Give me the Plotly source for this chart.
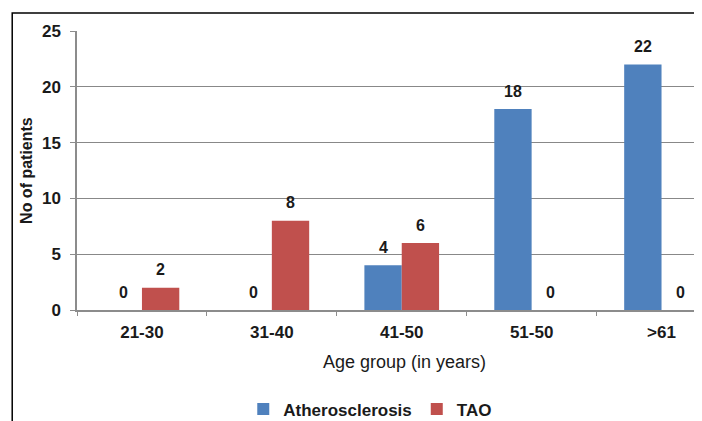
import plotly.graph_objects as go

categories = ["21-30", "31-40", "41-50", "51-50", ">61"]
athero = [0, 0, 4, 18, 22]
tao = [2, 8, 6, 0, 0]
series_names = ["Atherosclerosis", "TAO"]
colors = ["#4F81BD", "#C0504D"]
y_ticks = [0, 5, 10, 15, 20, 25]

FONT = "Liberation Sans, Arial, sans-serif"
TXT = "#1a1a1a"

fig = go.Figure()
for name, vals, col in zip(series_names, [athero, tao], colors):
    fig.add_trace(go.Bar(x=categories, y=vals, name=name, marker=dict(color=col, line=dict(width=0))))

bargap = 0.425
bw = (1 - bargap) / 2
annotations = []
for k, vals in enumerate([athero, tao]):
    off = -bw / 2 if k == 0 else bw / 2
    for i, v in enumerate(vals):
        annotations.append(dict(x=i + off, y=v, xref="x", yref="y", text=str(v), showarrow=False,
                                yanchor="middle", yshift=18,
                                font=dict(family=FONT, size=16, color=TXT, weight="bold")))

# axis titles
annotations.append(dict(x=0.531, y=-0.185, xref="paper", yref="paper", text="Age group (in years)",
                        showarrow=False, yanchor="middle", xanchor="center",
                        font=dict(family=FONT, size=18, color=TXT)))
annotations.append(dict(x=-0.082, y=0.50, xref="paper", yref="paper", text="No of patients",
                        showarrow=False, textangle=-90, yanchor="middle", xanchor="center",
                        font=dict(family=FONT, size=16, color=TXT, weight="bold")))

fig.update_layout(
    width=694, height=413,
    margin=dict(l=69, r=8, t=23, b=111),
    paper_bgcolor="white", plot_bgcolor="white",
    barmode="group", bargap=bargap, bargroupgap=0,
    showlegend=True,
    legend=dict(orientation="h", xref="container", yref="container",
                x=0.522, xanchor="center", y=0.028, yanchor="middle",
                font=dict(family=FONT, size=17, color=TXT, weight="bold"),
                itemwidth=30, tracegroupgap=0, bgcolor="rgba(0,0,0,0)"),
    annotations=annotations,
    xaxis=dict(type="category", range=[-0.5, 4.25], showgrid=False, automargin=False,
               showline=True, linecolor="#8c8c8c", linewidth=1.5,
               ticks="outside", tickson="boundaries", ticklen=4, tickcolor="#8c8c8c",
               ticklabelstandoff=6,
               tickfont=dict(family=FONT, size=17, color=TXT, weight="bold")),
    yaxis=dict(range=[0, 25], tickvals=y_ticks, showgrid=True, gridcolor="#888888", gridwidth=1.3,
               automargin=False,
               showline=True, linecolor="#8c8c8c", linewidth=1.5, zeroline=False,
               ticks="outside", ticklen=5, tickcolor="#8c8c8c", ticklabelstandoff=6,
               tickfont=dict(family=FONT, size=17, color=TXT, weight="bold")),
    shapes=[dict(type="rect", xref="paper", yref="paper", x0=-0.105, x1=1.005, y0=-0.5, y1=1.0645,
                 line=dict(color="black", width=1.5), fillcolor="rgba(0,0,0,0)", layer="above")],
)

fig.write_html("out.html")
